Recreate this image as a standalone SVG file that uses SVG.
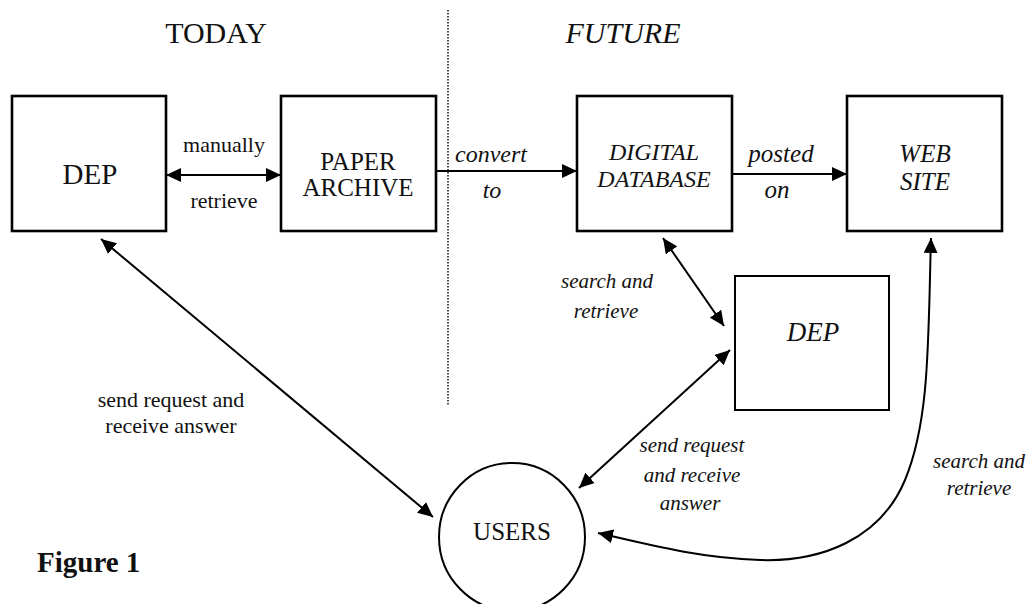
<svg xmlns="http://www.w3.org/2000/svg" width="1027" height="604" viewBox="0 0 1027 604">
<style>
  text { font-family: "Liberation Serif", "Times New Roman", serif; fill: #111; text-anchor: middle; }
  .it { font-style: italic; }
  .box { fill: #fff; stroke: #000; stroke-width: 2.6; }
  .box2 { fill: #fff; stroke: #000; stroke-width: 2; }
  .conn { fill: none; stroke: #000; stroke-width: 2; }
  .dot { fill: none; stroke: #000; stroke-width: 1.4; stroke-dasharray: 1.5 1.5; }
</style>
<defs>
  <marker id="ah" viewBox="0 0 15 14" refX="15" refY="7" markerWidth="15" markerHeight="14" markerUnits="userSpaceOnUse" orient="auto-start-reverse">
    <path d="M0,0 L15,7 L0,14 z" fill="#000"/>
  </marker>
</defs>
<rect width="1027" height="604" fill="#fff"/>

<g id="headers">
  <text x="216" y="43" font-size="30">TODAY</text>
  <text x="623" y="43" font-size="30" class="it">FUTURE</text>
  <line class="dot" x1="448" y1="10" x2="448" y2="405"/>
</g>

<g id="connectors">
  <line class="conn" x1="166" y1="175" x2="281" y2="175" marker-start="url(#ah)" marker-end="url(#ah)"/>
  <line class="conn" x1="436" y1="171" x2="577" y2="171" marker-end="url(#ah)"/>
  <line class="conn" x1="732" y1="174" x2="847" y2="174" marker-end="url(#ah)"/>
  <line class="conn" x1="663" y1="238" x2="724" y2="326" marker-start="url(#ah)" marker-end="url(#ah)"/>
  <line class="conn" x1="579" y1="488" x2="730" y2="350" marker-start="url(#ah)" marker-end="url(#ah)"/>
  <line class="conn" x1="101" y1="239" x2="433" y2="517" marker-start="url(#ah)" marker-end="url(#ah)"/>
  <path class="conn" d="M 931 238 C 928 340, 930 420, 905 480 C 880 540, 820 562, 760 560 C 700 558, 650 545, 598 533" marker-start="url(#ah)" marker-end="url(#ah)"/>
</g>

<g id="labels">
  <text x="224" y="152" font-size="22">manually</text>
  <text x="224" y="208" font-size="22">retrieve</text>
  <text x="491" y="162" font-size="24" class="it">convert</text>
  <text x="492" y="198" font-size="24" class="it">to</text>
  <text x="781" y="162" font-size="25" class="it">posted</text>
  <text x="777" y="198" font-size="25" class="it">on</text>
  <text x="607" y="288" font-size="21" class="it">search and</text>
  <text x="606" y="318" font-size="21" class="it">retrieve</text>
  <text x="692" y="452" font-size="21" class="it">send request</text>
  <text x="692" y="482" font-size="21" class="it">and receive</text>
  <text x="690" y="510" font-size="21" class="it">answer</text>
  <text x="979" y="468" font-size="21" class="it">search and</text>
  <text x="979" y="495" font-size="21" class="it">retrieve</text>
  <text x="171" y="407" font-size="22">send request and</text>
  <text x="171" y="433" font-size="22">receive answer</text>
</g>

<g id="dep-today">
  <rect class="box" x="12" y="96" width="154" height="135"/>
  <text x="90" y="184" font-size="29">DEP</text>
</g>
<g id="paper-archive">
  <rect class="box" x="281" y="96" width="155" height="135"/>
  <text x="358" y="170" font-size="25">PAPER</text>
  <text x="358" y="196" font-size="25">ARCHIVE</text>
</g>
<g id="digital-database">
  <rect class="box" x="577" y="96" width="155" height="135"/>
  <text x="654" y="160" font-size="24" class="it">DIGITAL</text>
  <text x="654" y="187" font-size="24" class="it">DATABASE</text>
</g>
<g id="web-site">
  <rect class="box" x="847" y="96" width="155" height="135"/>
  <text x="925" y="162" font-size="25" class="it">WEB</text>
  <text x="925" y="190" font-size="25" class="it">SITE</text>
</g>
<g id="dep-future">
  <rect class="box2" x="735" y="276" width="154" height="134"/>
  <text x="813" y="341" font-size="27" class="it">DEP</text>
</g>
<g id="users">
  <ellipse cx="512" cy="537" rx="73" ry="74" fill="#fff" stroke="#000" stroke-width="2"/>
  <text x="512" y="540" font-size="25">USERS</text>
</g>

<g id="caption">
  <text x="37" y="572" font-size="29" font-weight="bold" style="text-anchor:start">Figure 1</text>
</g>
</svg>
